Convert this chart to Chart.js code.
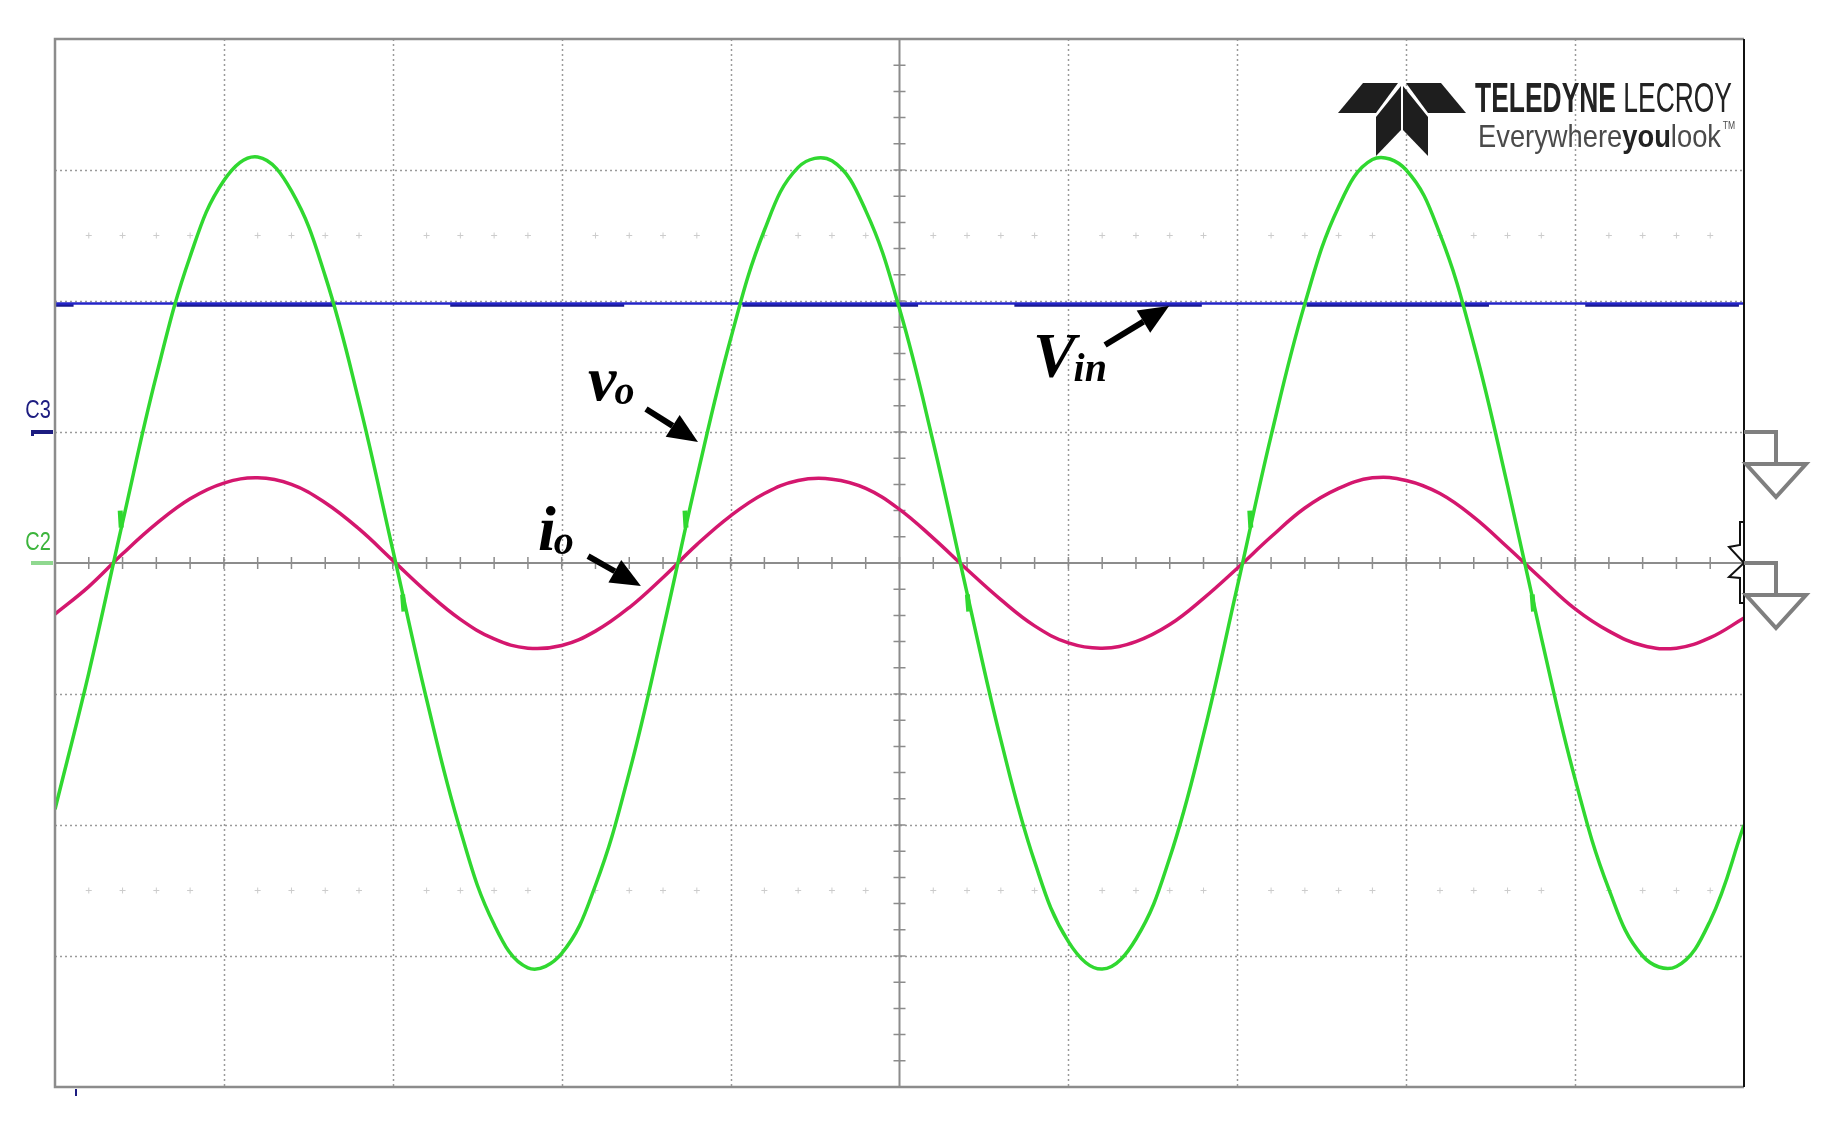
<!DOCTYPE html>
<html>
<head>
<meta charset="utf-8">
<script src="https://cdn.jsdelivr.net/npm/chart.js@4/dist/chart.umd.min.js"></script>
<style>
    html, body { margin: 0; padding: 0; background: #ffffff; }
    canvas { display: block; }
</style>
</head>
<body>
<canvas id="scope" width="1833" height="1122"></canvas>
<script>
// time axis in screen divisions (10 div across)
var timeDiv = [0, 0.2, 0.4, 0.6, 0.8, 1.0, 1.2, 1.4, 1.6, 1.8,
    2.0, 2.2, 2.4, 2.6, 2.8, 3.0, 3.2, 3.4, 3.6, 3.8,
    4.0, 4.2, 4.4, 4.6, 4.8, 5.0, 5.2, 5.4, 5.6, 5.8,
    6.0, 6.2, 6.4, 6.6, 6.8, 7.0, 7.2, 7.4, 7.6, 7.8,
    8.0, 8.2, 8.4, 8.6, 8.8, 9.0, 9.2, 9.4, 9.6, 9.8, 10.0];

// output voltage v_o (green), in divisions
var voDiv = [-1.88, -0.84, 0.31, 1.43, 2.34, 2.92, 3.10, 2.84, 2.19, 1.23,
    0.10, -1.04, -2.04, -2.76, -3.09, -2.98, -2.46, -1.60, -0.51, 0.65,
    1.71, 2.54, 3.02, 3.07, 2.69, 1.94, 0.92, -0.23, -1.35, -2.28,
    -2.89, -3.10, -2.87, -2.25, -1.31, -0.18, 0.97, 1.98, 2.72, 3.08,
    3.00, 2.51, 1.67, 0.59, -0.57, -1.65, -2.49, -3.00, -3.08, -2.73, -2.00];

// output current i_o (magenta), in divisions
var ioDiv = [-0.39, -0.18, 0.07, 0.30, 0.49, 0.61, 0.65, 0.60, 0.46, 0.26,
    0.02, -0.22, -0.43, -0.58, -0.65, -0.63, -0.52, -0.34, -0.11, 0.14,
    0.36, 0.53, 0.63, 0.64, 0.57, 0.41, 0.19, -0.05, -0.28, -0.48,
    -0.61, -0.65, -0.60, -0.47, -0.27, -0.04, 0.20, 0.42, 0.57, 0.65,
    0.63, 0.53, 0.35, 0.12, -0.12, -0.35, -0.52, -0.63, -0.65, -0.57, -0.42];

// input voltage V_in (blue), flat trace
var vinTime = [0, 10];
var vinDiv = [1.98, 1.98];

// darker noisy stretches on the V_in trace
var vinNoiseStart = [0, 0.72, 2.34, 4.07, 5.68, 7.41, 9.06];
var vinNoiseEnd = [0.11, 1.66, 3.37, 5.11, 6.79, 8.49, 9.97];
var vinNoiseDiv = 1.968;

// small switching glitches on v_o near its zero crossings
var glitchTime = [0.392, 3.736, 7.08, 2.058, 5.402, 8.746];
var glitchEnd = [0.386, 3.730, 7.074, 2.066, 5.410, 8.754];
var glitchLow = [0.27, 0.27, 0.27, -0.24, -0.24, -0.24];
var glitchHigh = [0.40, 0.40, 0.40, -0.37, -0.37, -0.37];

function toPoints(xs, ys) {
    return xs.map(function (x, i) {
        return {x: x, y: ys[i]};
    });
}

function noisePoints() {
    var pts = [];
    vinNoiseStart.forEach(function (s, i) {
        pts.push({x: s, y: vinNoiseDiv});
        pts.push({x: vinNoiseEnd[i], y: vinNoiseDiv});
        pts.push({x: vinNoiseEnd[i], y: null});
    });
    return pts;
}

function glitchPoints() {
    var pts = [];
    glitchTime.forEach(function (t, i) {
        pts.push({x: t, y: glitchLow[i]});
        pts.push({x: glitchEnd[i], y: glitchHigh[i]});
        pts.push({x: t, y: null});
    });
    return pts;
}

function drawArrow(ctx, x1, y1, x2, y2) {
    var ang = Math.atan2(y2 - y1, x2 - x1),
        headLen = 30,
        headW = 13;
    var bx = x2 - headLen * Math.cos(ang),
        by = y2 - headLen * Math.sin(ang);
    ctx.strokeStyle = '#000';
    ctx.lineWidth = 6;
    ctx.lineCap = 'butt';
    ctx.beginPath();
    ctx.moveTo(x1, y1);
    ctx.lineTo(bx, by);
    ctx.stroke();
    ctx.fillStyle = '#000';
    ctx.beginPath();
    ctx.moveTo(x2, y2);
    ctx.lineTo(bx + headW * Math.sin(ang), by - headW * Math.cos(ang));
    ctx.lineTo(bx - headW * Math.sin(ang), by + headW * Math.cos(ang));
    ctx.closePath();
    ctx.fill();
}

// label with a subscript, e.g. V + in
function drawSubLabel(ctx, x, y, main, sub, mainSize, subSize) {
    ctx.fillStyle = '#000';
    ctx.textBaseline = 'alphabetic';
    ctx.textAlign = 'left';
    ctx.font = 'italic bold ' + mainSize + 'px "Liberation Serif"';
    ctx.fillText(main, x, y);
    var w = ctx.measureText(main).width;
    ctx.font = 'italic bold ' + subSize + 'px "Liberation Serif"';
    ctx.fillText(sub, x + w - 2, y + 4);
}

function drawLogo(ctx) {
    ctx.save();
    ctx.fillStyle = '#1e1e1e';
    var cx = 2804;
    var left = [[[1363, 83], [1398, 83], [1376, 113], [1338, 113]],
        [[1401, 86], [1401, 130], [1376, 156], [1376, 117]]];
    left.forEach(function (poly) {
        [1, -1].forEach(function (side) {
            ctx.beginPath();
            poly.forEach(function (p, i) {
                var x = side > 0 ? p[0] : cx - p[0];
                if (i === 0) ctx.moveTo(x, p[1]); else ctx.lineTo(x, p[1]);
            });
            ctx.closePath();
            ctx.fill();
        });
    });

    // TELEDYNE LECROY, condensed
    ctx.textBaseline = 'alphabetic';
    ctx.textAlign = 'left';
    ctx.font = 'bold 42px "Liberation Sans"';
    var w1 = ctx.measureText('TELEDYNE').width;
    ctx.font = '42px "Liberation Sans"';
    var w2 = ctx.measureText(' LECROY').width;
    var sx = 257 / (w1 + w2);
    ctx.save();
    ctx.translate(1475, 112);
    ctx.scale(sx, 1);
    ctx.fillStyle = '#222';
    ctx.font = 'bold 42px "Liberation Sans"';
    ctx.fillText('TELEDYNE', 0, 0);
    ctx.font = '42px "Liberation Sans"';
    ctx.fillText(' LECROY', w1, 0);
    ctx.restore();

    // Everywhereyoulook
    ctx.font = '32px "Liberation Sans"';
    var a = ctx.measureText('Everywhere').width;
    ctx.font = 'bold 32px "Liberation Sans"';
    var b = ctx.measureText('you').width;
    ctx.font = '32px "Liberation Sans"';
    var c = ctx.measureText('look').width;
    var sx2 = 243 / (a + b + c);
    ctx.save();
    ctx.translate(1478, 147);
    ctx.scale(sx2, 1);
    ctx.fillStyle = '#4a4a4a';
    ctx.font = '32px "Liberation Sans"';
    ctx.fillText('Everywhere', 0, 0);
    ctx.fillStyle = '#222';
    ctx.font = 'bold 32px "Liberation Sans"';
    ctx.fillText('you', a, 0);
    ctx.fillStyle = '#4a4a4a';
    ctx.font = '32px "Liberation Sans"';
    ctx.fillText('look', a + b, 0);
    ctx.font = '10px "Liberation Sans"';
    ctx.fillText('TM', a + b + c + 2, -18);
    ctx.restore();
    ctx.restore();
}

var graticule = {
    id: 'graticule',
    beforeDatasetsDraw: function (chart) {
        var ctx = chart.ctx,
            xs = chart.scales.x,
            ys = chart.scales.y,
            area = chart.chartArea;
        ctx.save();

        // dotted division lines
        ctx.strokeStyle = '#9a9a9a';
        ctx.lineWidth = 1.5;
        ctx.setLineDash([2, 3]);
        for (var i = 1; i < 10; i++) {
            if (i === 5) continue;
            var x = Math.round(xs.getPixelForValue(i)) + 0.5;
            ctx.beginPath();
            ctx.moveTo(x, area.top);
            ctx.lineTo(x, area.bottom);
            ctx.stroke();
        }
        for (var j = -3; j <= 3; j++) {
            if (j === 0) continue;
            var y = Math.round(ys.getPixelForValue(j)) + 0.5;
            ctx.beginPath();
            ctx.moveTo(area.left, y);
            ctx.lineTo(area.right, y);
            ctx.stroke();
        }
        ctx.setLineDash([]);

        // faint sub-division rows
        ctx.strokeStyle = '#cccccc';
        ctx.lineWidth = 1;
        [2.5, -2.5].forEach(function (row) {
            var py = ys.getPixelForValue(row);
            for (var k = 1; k < 50; k++) {
                if (k % 5 === 0) continue;
                var px = xs.getPixelForValue(k * 0.2);
                ctx.beginPath();
                ctx.moveTo(px - 3, py);
                ctx.lineTo(px + 3, py);
                ctx.moveTo(px, py - 3);
                ctx.lineTo(px, py + 3);
                ctx.stroke();
            }
        });

        // centre cross with minor ticks
        var cx = xs.getPixelForValue(5),
            cy = ys.getPixelForValue(0);
        ctx.strokeStyle = '#8c8c8c';
        ctx.lineWidth = 2;
        ctx.beginPath();
        ctx.moveTo(area.left, cy);
        ctx.lineTo(area.right, cy);
        ctx.moveTo(cx, area.top);
        ctx.lineTo(cx, area.bottom);
        ctx.stroke();
        ctx.lineWidth = 1.5;
        ctx.beginPath();
        for (var t = 1; t < 50; t++) {
            var tx = xs.getPixelForValue(t * 0.2);
            ctx.moveTo(tx, cy - 6);
            ctx.lineTo(tx, cy + 6);
        }
        for (var u = 1; u < 40; u++) {
            var ty = ys.getPixelForValue(-4 + u * 0.2);
            ctx.moveTo(cx - 6, ty);
            ctx.lineTo(cx + 6, ty);
        }
        ctx.stroke();

        drawLogo(ctx);
        ctx.restore();
    },
    afterDatasetsDraw: function (chart) {
        var ctx = chart.ctx,
            xs = chart.scales.x,
            ys = chart.scales.y,
            area = chart.chartArea;
        ctx.save();

        // frame: grey on three sides, black on the right
        ctx.strokeStyle = '#8c8c8c';
        ctx.lineWidth = 2.5;
        ctx.beginPath();
        ctx.moveTo(area.right, area.top);
        ctx.lineTo(area.left, area.top);
        ctx.lineTo(area.left, area.bottom);
        ctx.lineTo(area.right, area.bottom);
        ctx.stroke();
        ctx.strokeStyle = '#111';
        ctx.lineWidth = 2;
        ctx.beginPath();
        ctx.moveTo(area.right, area.top);
        ctx.lineTo(area.right, area.bottom);
        ctx.stroke();

        // trigger marker on the right edge
        var zy = ys.getPixelForValue(0),
            r = area.right;
        ctx.lineWidth = 2;
        ctx.beginPath();
        ctx.moveTo(r, zy - 41);
        ctx.lineTo(r - 4, zy - 41);
        ctx.lineTo(r - 4, zy - 18);
        ctx.lineTo(r - 15, zy - 16);
        ctx.lineTo(r, zy);
        ctx.lineTo(r - 15, zy + 14);
        ctx.lineTo(r - 4, zy + 15);
        ctx.lineTo(r - 4, zy + 40);
        ctx.lineTo(r, zy + 40);
        ctx.stroke();

        // channel offset arrows on the right
        ctx.strokeStyle = '#7f7f7f';
        ctx.lineWidth = 4;
        ctx.lineJoin = 'miter';
        [ys.getPixelForValue(1), zy].forEach(function (my) {
            ctx.beginPath();
            ctx.moveTo(r, my);
            ctx.lineTo(r + 32, my);
            ctx.lineTo(r + 32, my + 32);
            ctx.stroke();
            ctx.beginPath();
            ctx.moveTo(r + 2, my + 32);
            ctx.lineTo(r + 62, my + 32);
            ctx.lineTo(r + 32, my + 65);
            ctx.closePath();
            ctx.stroke();
        });

        // channel labels on the left
        ctx.textAlign = 'center';
        ctx.textBaseline = 'middle';
        ctx.font = '25px "Liberation Sans Narrow", "Liberation Sans"';
        var c3y = ys.getPixelForValue(1);
        ctx.fillStyle = '#1c1c80';
        ctx.save();
        ctx.translate(area.left - 17, c3y - 21);
        ctx.scale(0.8, 1);
        ctx.fillText('C3', 0, 0);
        ctx.restore();
        ctx.fillRect(area.left - 24, c3y - 2, 22, 4);
        ctx.fillRect(area.left - 24, c3y - 2, 3, 6);
        ctx.fillStyle = '#8fd88f';
        ctx.fillRect(area.left - 24, zy - 2, 22, 4);
        ctx.fillStyle = '#3cb43c';
        ctx.save();
        ctx.translate(area.left - 17, zy - 20);
        ctx.scale(0.8, 1);
        ctx.fillText('C2', 0, 0);
        ctx.restore();
        ctx.fillStyle = '#1c1c80';
        ctx.fillRect(area.left + 20, area.bottom + 2, 2, 7);

        // annotations
        drawSubLabel(ctx, xs.getPixelForValue(5.79), ys.getPixelForValue(1.42), 'V', 'in', 64, 40);
        drawArrow(ctx, xs.getPixelForValue(6.217), ys.getPixelForValue(1.664),
            xs.getPixelForValue(6.596), ys.getPixelForValue(1.962));
        drawSubLabel(ctx, xs.getPixelForValue(3.156), ys.getPixelForValue(1.244), 'v', 'o', 64, 40);
        drawArrow(ctx, xs.getPixelForValue(3.499), ys.getPixelForValue(1.176),
            xs.getPixelForValue(3.807), ys.getPixelForValue(0.924));
        drawSubLabel(ctx, xs.getPixelForValue(2.86), ys.getPixelForValue(0.10), 'i', 'o', 64, 40);
        drawArrow(ctx, xs.getPixelForValue(3.156), ys.getPixelForValue(0.053),
            xs.getPixelForValue(3.469), ys.getPixelForValue(-0.176));
        ctx.restore();
    }
};

var chart = new Chart(document.getElementById('scope'), {
    type: 'line',
    data: {
        datasets: [{
            label: 'v_o',
            data: toPoints(timeDiv, voDiv),
            borderColor: '#30d830',
            borderWidth: 3.5,
            tension: 0.4,
            pointRadius: 0,
            order: 1
        }, {
            label: 'v_o glitch',
            data: glitchPoints(),
            borderColor: '#30d830',
            borderWidth: 5,
            tension: 0,
            pointRadius: 0,
            spanGaps: false,
            order: 0
        }, {
            label: 'i_o',
            data: toPoints(timeDiv, ioDiv),
            borderColor: '#d4176e',
            borderWidth: 3.5,
            tension: 0.4,
            pointRadius: 0,
            order: 2
        }, {
            label: 'V_in noise',
            data: noisePoints(),
            borderColor: '#1a1a90',
            borderWidth: 3,
            tension: 0,
            pointRadius: 0,
            spanGaps: false,
            order: 4
        }, {
            label: 'V_in',
            data: toPoints(vinTime, vinDiv),
            borderColor: '#2424c8',
            borderWidth: 2.5,
            tension: 0,
            pointRadius: 0,
            order: 3
        }]
    },
    options: {
        responsive: false,
        animation: false,
        devicePixelRatio: 1,
        layout: {
            padding: {left: 55, top: 39, right: 89, bottom: 35}
        },
        plugins: {
            legend: {display: false},
            tooltip: {enabled: false}
        },
        scales: {
            x: {type: 'linear', min: 0, max: 10, display: false},
            y: {type: 'linear', min: -4, max: 4, display: false}
        }
    },
    plugins: [graticule]
});
</script>
</body>
</html>
